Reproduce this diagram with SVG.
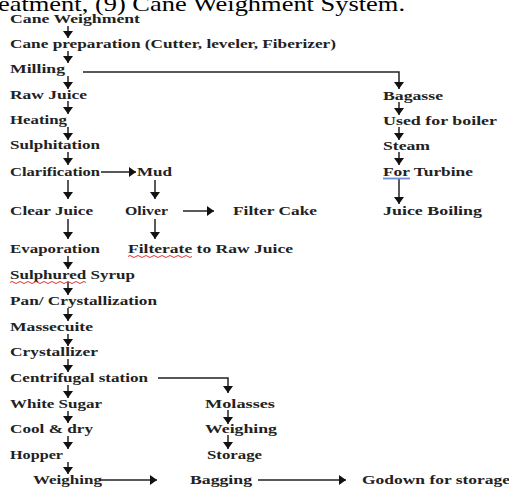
<svg xmlns="http://www.w3.org/2000/svg" width="509" height="489" viewBox="0 0 509 489">
<style>
text{font-family:"Liberation Serif","Times New Roman",serif;}
.l{font-size:13px;font-weight:bold;fill:#222;}
.h{font-size:22px;fill:#000;}
.c{stroke:#222;stroke-width:1.5;fill:none;}
.sq{stroke:#d33;stroke-width:1;fill:none;}
</style>
<defs>
<marker id="ah" markerWidth="8" markerHeight="10" refX="7" refY="5" orient="auto" markerUnits="userSpaceOnUse"><path d="M0,0 L7,5 L0,10 z" fill="#111"/></marker>
</defs>
<rect width="509" height="489" fill="#fff"/>
<text class="h" x="-2" y="11" textLength="407" lengthAdjust="spacingAndGlyphs">eatment, (9) Cane Weighment System.</text>

<g id="connectors">
<line class="c" x1="68" y1="26" x2="68" y2="38" marker-end="url(#ah)"/>
<line class="c" x1="68" y1="51" x2="68" y2="63" marker-end="url(#ah)"/>
<line class="c" x1="68" y1="76" x2="68" y2="89" marker-end="url(#ah)"/>
<line class="c" x1="68" y1="101" x2="68" y2="114" marker-end="url(#ah)"/>
<line class="c" x1="68" y1="127" x2="68" y2="140" marker-end="url(#ah)"/>
<line class="c" x1="68" y1="152" x2="68" y2="165" marker-end="url(#ah)"/>
<line class="c" x1="68" y1="180" x2="68" y2="199" marker-end="url(#ah)"/>
<line class="c" x1="68" y1="219" x2="68" y2="239" marker-end="url(#ah)"/>
<line class="c" x1="68" y1="256" x2="68" y2="269" marker-end="url(#ah)"/>
<line class="c" x1="68" y1="282" x2="68" y2="295" marker-end="url(#ah)"/>
<line class="c" x1="68" y1="308" x2="68" y2="321" marker-end="url(#ah)"/>
<line class="c" x1="68" y1="334" x2="68" y2="346" marker-end="url(#ah)"/>
<line class="c" x1="68" y1="359" x2="68" y2="372" marker-end="url(#ah)"/>
<line class="c" x1="68" y1="385" x2="68" y2="398" marker-end="url(#ah)"/>
<line class="c" x1="68" y1="411" x2="68" y2="423" marker-end="url(#ah)"/>
<line class="c" x1="68" y1="436" x2="68" y2="449" marker-end="url(#ah)"/>
<line class="c" x1="68" y1="462" x2="68" y2="474" marker-end="url(#ah)"/>
<line class="c" x1="101" y1="172" x2="136" y2="172" marker-end="url(#ah)"/>
<line class="c" x1="155" y1="180" x2="155" y2="199" marker-end="url(#ah)"/>
<line class="c" x1="155" y1="219" x2="155" y2="239" marker-end="url(#ah)"/>
<line class="c" x1="183" y1="211" x2="214" y2="211" marker-end="url(#ah)"/>
<polyline class="c" points="83,72 399,72 399,89" stroke="#444" marker-end="url(#ah)"/>
<line class="c" x1="399" y1="102" x2="399" y2="115" marker-end="url(#ah)"/>
<line class="c" x1="399" y1="127" x2="399" y2="140" marker-end="url(#ah)"/>
<line class="c" x1="399" y1="152" x2="399" y2="165" marker-end="url(#ah)"/>
<line class="c" x1="399" y1="178" x2="399" y2="204" marker-end="url(#ah)"/>
<polyline class="c" points="158,378 228,378 228,393" marker-end="url(#ah)"/>
<line class="c" x1="228" y1="410" x2="228" y2="424" marker-end="url(#ah)"/>
<line class="c" x1="228" y1="435" x2="228" y2="449" marker-end="url(#ah)"/>
<line class="c" x1="100" y1="480" x2="157" y2="480" marker-end="url(#ah)"/>
<line class="c" x1="258" y1="480" x2="346" y2="480" marker-end="url(#ah)"/>
</g>

<g id="n-cane-weighment"><text class="l" x="10" y="23" textLength="130" lengthAdjust="spacingAndGlyphs">Cane Weighment</text></g>
<g id="n-cane-prep"><text class="l" x="10" y="48" textLength="326" lengthAdjust="spacingAndGlyphs">Cane preparation (Cutter, leveler, Fiberizer)</text></g>
<g id="n-milling"><text class="l" x="10" y="73" textLength="55" lengthAdjust="spacingAndGlyphs">Milling</text></g>
<g id="n-raw-juice"><text class="l" x="10" y="99" textLength="77" lengthAdjust="spacingAndGlyphs">Raw Juice</text></g>
<g id="n-heating"><text class="l" x="10" y="124" textLength="57" lengthAdjust="spacingAndGlyphs">Heating</text></g>
<g id="n-sulphitation"><text class="l" x="10" y="149" textLength="90" lengthAdjust="spacingAndGlyphs">Sulphitation</text></g>
<g id="n-clarification"><text class="l" x="10" y="176" textLength="90" lengthAdjust="spacingAndGlyphs">Clarification</text></g>
<g id="n-mud"><text class="l" x="137" y="176" textLength="35" lengthAdjust="spacingAndGlyphs">Mud</text></g>
<g id="n-clear-juice"><text class="l" x="10" y="215" textLength="83" lengthAdjust="spacingAndGlyphs">Clear Juice</text></g>
<g id="n-oliver"><text class="l" x="125" y="215" textLength="43" lengthAdjust="spacingAndGlyphs">Oliver</text></g>
<g id="n-filter-cake"><text class="l" x="233" y="215" textLength="84" lengthAdjust="spacingAndGlyphs">Filter Cake</text></g>
<g id="n-bagasse"><text class="l" x="383" y="100" textLength="60" lengthAdjust="spacingAndGlyphs">Bagasse</text></g>
<g id="n-boiler"><text class="l" x="383" y="125" textLength="114" lengthAdjust="spacingAndGlyphs">Used for boiler</text></g>
<g id="n-steam"><text class="l" x="383" y="150" textLength="47" lengthAdjust="spacingAndGlyphs">Steam</text></g>
<g id="n-turbine"><text class="l" x="383" y="176" textLength="90" lengthAdjust="spacingAndGlyphs">For Turbine</text><line x1="383" y1="178.5" x2="410" y2="178.5" stroke="#6a8fd8" stroke-width="1.8"/></g>
<g id="n-juice-boiling"><text class="l" x="383" y="215" textLength="99" lengthAdjust="spacingAndGlyphs">Juice Boiling</text></g>
<g id="n-evaporation"><text class="l" x="10" y="253" textLength="90" lengthAdjust="spacingAndGlyphs">Evaporation</text></g>
<g id="n-filterate"><text class="l" x="128" y="253" textLength="165" lengthAdjust="spacingAndGlyphs">Filterate to Raw Juice</text><path class="sq" d="M128,256.5 q2,-2 4,0 t4,0 t4,0 t4,0 t4,0 t4,0 t4,0 t4,0 t4,0 t4,0 t4,0 t4,0 t4,0 t4,0 t4,0 t4,0"/></g>
<g id="n-sulphured"><text class="l" x="10" y="279" textLength="125" lengthAdjust="spacingAndGlyphs">Sulphured Syrup</text><path class="sq" d="M10,282.5 q2,-2 4,0 t4,0 t4,0 t4,0 t4,0 t4,0 t4,0 t4,0 t4,0 t4,0 t4,0 t4,0 t4,0 t4,0 t4,0 t4,0 t4,0 t4,0 t4,0"/></g>
<g id="n-pan"><text class="l" x="10" y="305" textLength="147" lengthAdjust="spacingAndGlyphs">Pan/ Crystallization</text></g>
<g id="n-massecuite"><text class="l" x="10" y="331" textLength="83" lengthAdjust="spacingAndGlyphs">Massecuite</text></g>
<g id="n-crystallizer"><text class="l" x="10" y="356" textLength="88" lengthAdjust="spacingAndGlyphs">Crystallizer</text></g>
<g id="n-centrifugal"><text class="l" x="10" y="382" textLength="138" lengthAdjust="spacingAndGlyphs">Centrifugal station</text></g>
<g id="n-white-sugar"><text class="l" x="10" y="408" textLength="92" lengthAdjust="spacingAndGlyphs">White Sugar</text></g>
<g id="n-molasses"><text class="l" x="205" y="408" textLength="70" lengthAdjust="spacingAndGlyphs">Molasses</text></g>
<g id="n-cool-dry"><text class="l" x="10" y="433" textLength="83" lengthAdjust="spacingAndGlyphs">Cool &amp; dry</text></g>
<g id="n-weighing-molasses"><text class="l" x="205" y="433" textLength="72" lengthAdjust="spacingAndGlyphs">Weighing</text></g>
<g id="n-hopper"><text class="l" x="10" y="459" textLength="53" lengthAdjust="spacingAndGlyphs">Hopper</text></g>
<g id="n-storage"><text class="l" x="207" y="459" textLength="55" lengthAdjust="spacingAndGlyphs">Storage</text></g>
<g id="n-weighing"><text class="l" x="33" y="484" textLength="69" lengthAdjust="spacingAndGlyphs">Weighing</text></g>
<g id="n-bagging"><text class="l" x="190" y="484" textLength="62" lengthAdjust="spacingAndGlyphs">Bagging</text></g>
<g id="n-godown"><text class="l" x="362" y="484" textLength="148" lengthAdjust="spacingAndGlyphs">Godown for storage</text></g>
</svg>
